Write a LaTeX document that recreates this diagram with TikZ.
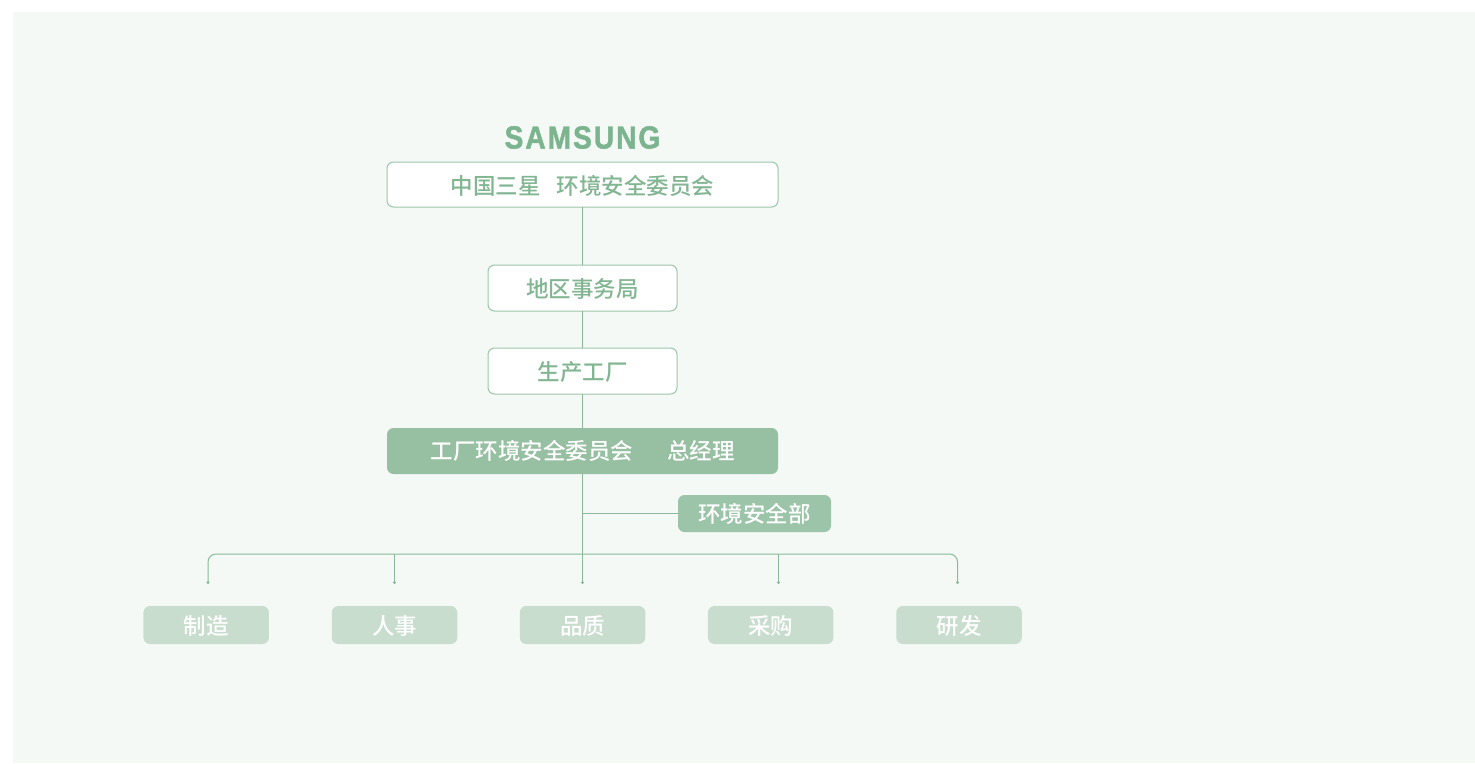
\documentclass[tikz,border=0pt]{standalone}
\usepackage{fontspec}
\setmainfont{Liberation Sans}
\newfontfamily\cjk{Noto Sans CJK SC Medium}
\newfontfamily\logofont[LetterSpace=7,FakeBold=1.5]{Liberation Sans Bold}
\newcommand{\lowtxt}[1]{\raisebox{-0.9pt}[\height][\depth]{#1}}
\usetikzlibrary{arrows.meta,positioning}
\definecolor{bgc}{HTML}{F4F9F6}
\definecolor{linec}{HTML}{8ABA98}
\definecolor{edgec}{HTML}{9CC6A9}
\definecolor{textc}{HTML}{82B591}
\definecolor{darkc}{HTML}{97BFA1}
\definecolor{envc}{HTML}{9BC4A8}
\definecolor{lightc}{HTML}{C8DDCE}
\definecolor{logoc}{HTML}{7BB48E}
\tikzset{
  x=1pt,y=-1pt,
  base/.style={rounded corners=6.5pt,inner sep=0pt,outer sep=0pt,font=\cjk\fontsize{22.5}{22.5}\selectfont,align=center,anchor=center},
  outlinebox/.style={base,draw=edgec,line width=1pt,fill=white,text=textc},
  darkbox/.style={base,fill=darkc,text=white},
  lightbox/.style={base,fill=lightc,text=white,minimum width=125.5pt,minimum height=38pt},
  conn/.style={draw=linec,line width=1pt},
  drop/.style={conn,-{Circle[length=3pt,width=3pt]}},
  dropboth/.style={conn,{Circle[length=3pt,width=3pt]}-{Circle[length=3pt,width=3pt]}},
}
\begin{document}
\begin{tikzpicture}
\useasboundingbox (0,0) rectangle (1475,763);
\fill[bgc] (13,12) rectangle (1475,763);
\node[anchor=center,text=logoc,font=\logofont\fontsize{32}{32}\selectfont,inner sep=0pt,xscale=.88] (logo) at (582.5,137.5) {SAMSUNG};
\node[outlinebox,minimum width=391pt,minimum height=45pt] (top) at (582.5,184.5) {\lowtxt{中国三星\hspace{16pt}环境安全委员会}};
\node[outlinebox,minimum width=189pt,minimum height=46pt] (region) at (582.5,288) {\lowtxt{地区事务局}};
\node[outlinebox,minimum width=189pt,minimum height=46pt] (plant) at (582.5,371) {\lowtxt{生产工厂}};
\node[darkbox,minimum width=391pt,minimum height=46pt] (gm) at (582.5,451) {工厂环境安全委员会\hspace{34pt}总经理};
\node[darkbox,fill=envc,minimum width=153pt,minimum height=37pt] (env) at (754.5,513.5) {环境安全部};
\node[lightbox] (b1) at (206.2,625) {\lowtxt{制造}};
\node[lightbox] (b2) at (394.5,625) {\lowtxt{人事}};
\node[lightbox] (b3) at (582.5,625) {\lowtxt{品质}};
\node[lightbox] (b4) at (770.7,625) {\lowtxt{采购}};
\node[lightbox] (b5) at (959,625) {\lowtxt{研发}};
\coordinate (j) at (582.5,513.5);
\coordinate (t1) at (208,584);
\coordinate (t2) at (394.5,584);
\coordinate (t3) at (582.5,584);
\coordinate (t4) at (778.5,584);
\coordinate (t5) at (957.5,584);
\coordinate (bl) at (208,554);
\coordinate (br) at (957.5,554);
\coordinate (j2) at (394.5,554);
\coordinate (j4) at (778.5,554);
\draw[conn] (top.south) -- (region.north);
\draw[conn] (region.south) -- (plant.north);
\draw[conn] (plant.south) -- (gm.north);
\draw[drop] (gm.south) -- (t3);
\draw[conn] (j) -- (env.west);
\draw[dropboth,rounded corners=8pt] (t1) -- (bl) -- (br) -- (t5);
\draw[drop] (j2) -- (t2);
\draw[drop] (j4) -- (t4);
\end{tikzpicture}
\end{document}
